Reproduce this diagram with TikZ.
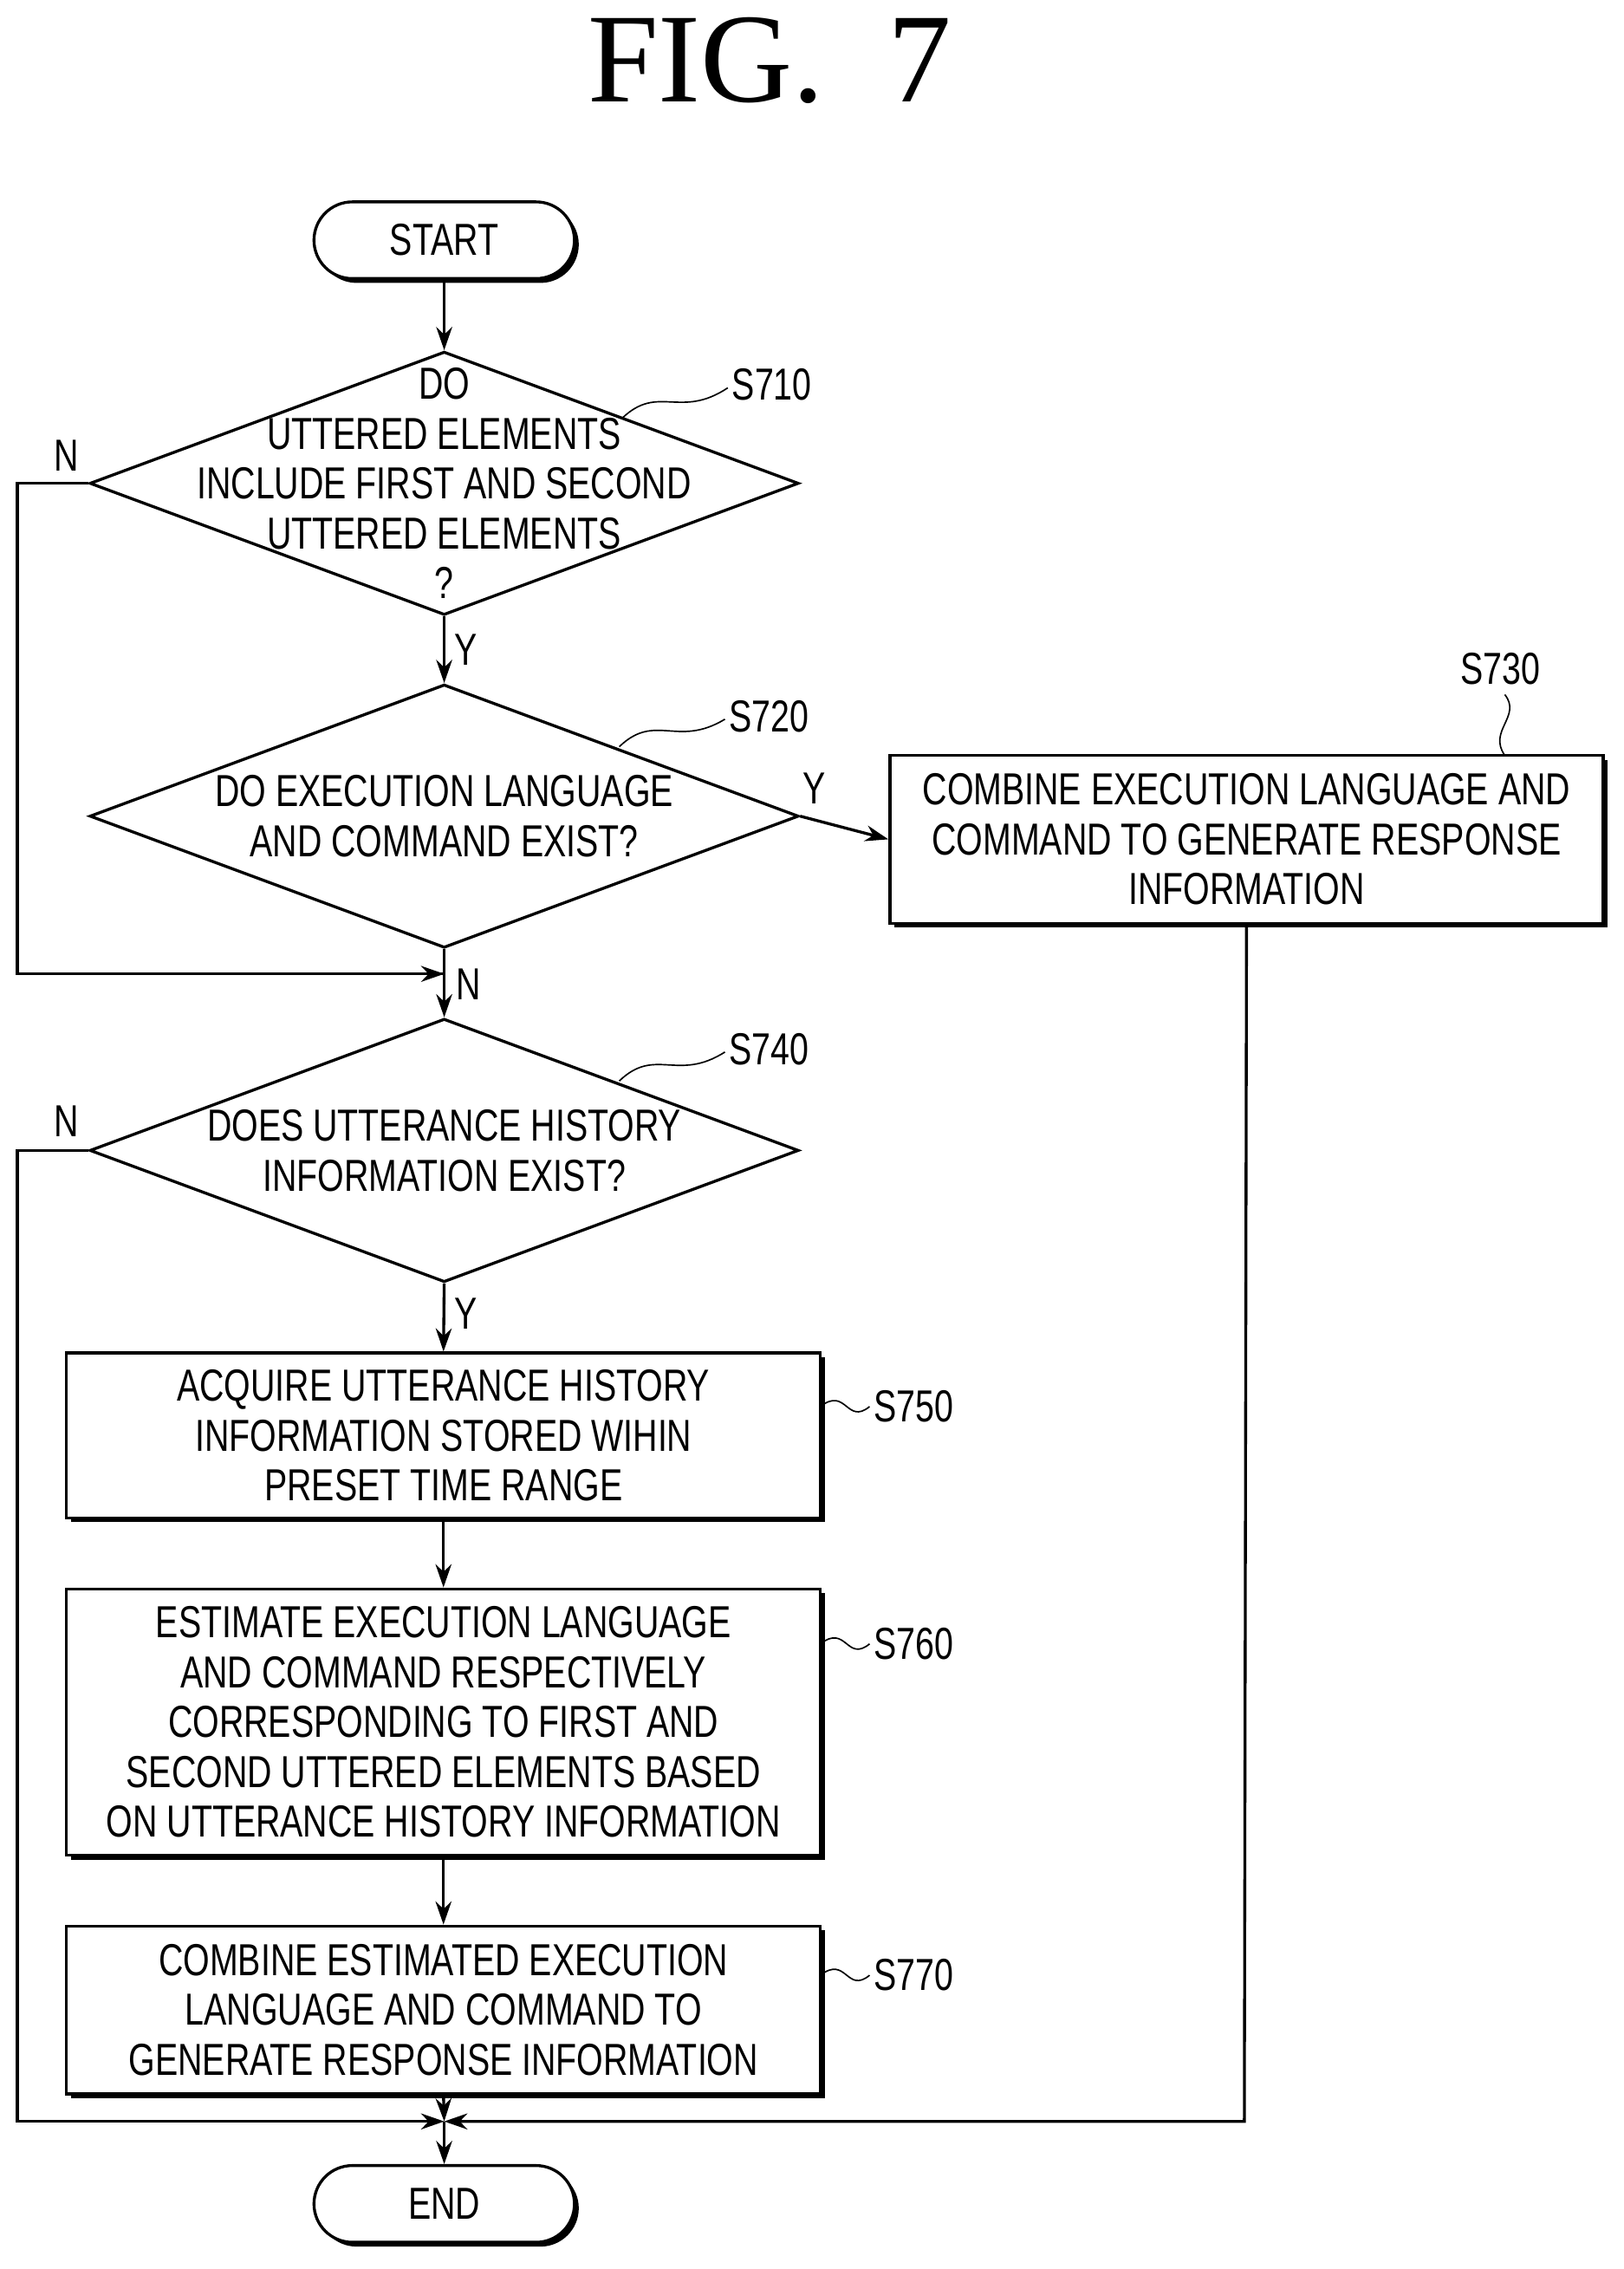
\documentclass[tikz,border=0pt]{standalone}
\usepackage{fontspec}
\setmainfont{Liberation Sans}[FakeStretch=0.76]
\newfontfamily\titlefont{Liberation Serif}
\usetikzlibrary{shapes.geometric,shapes.misc,shadows,arrows.meta}
\begin{document}
\begin{tikzpicture}[x=1pt,y=-1pt,line width=2pt,
  txt/.style={align=center,font=\fontsize{31}{34.5}\selectfont,inner sep=0},
  box/.style={draw,fill=white,rectangle,inner sep=0,drop shadow={shadow xshift=3pt,shadow yshift=-3pt,fill=black,opacity=1}},
  term/.style={draw,fill=white,rounded rectangle,minimum width=180,minimum height=53,inner sep=0,font=\fontsize{31}{34}\selectfont,drop shadow={shadow xshift=3pt,shadow yshift=-3pt,fill=black,opacity=1}},
  dia/.style={draw,diamond,minimum width=490,minimum height=182,inner sep=0},
  arr/.style={-{Stealth[length=16pt,width=11pt]}},
  lab/.style={font=\fontsize{31}{34}\selectfont,inner sep=0}]
\useasboundingbox (0,0) rectangle (1122,1568);
\node[font=\titlefont\fontsize{88}{90}\selectfont] (title) at (532,42) {FIG.\ \ 7};
\node[term] (start) at (307,166) {START};
\node[dia] (d1) at (307,334) {};
\node[txt] (t1) at (307,334) {DO\\UTTERED ELEMENTS\\INCLUDE FIRST AND SECOND\\UTTERED ELEMENTS\\?};
\node[dia] (d2) at (307,564) {};
\node[txt] (t2) at (307,564) {DO EXECUTION LANGUAGE\\AND COMMAND EXIST?};
\node[box,minimum width=493,minimum height=116] (b730) at (861.5,580) {};
\node[txt] (t730) at (861.5,580) {COMBINE EXECUTION LANGUAGE AND\\COMMAND TO GENERATE RESPONSE\\INFORMATION};
\node[dia] (d3) at (307,795) {};
\node[txt] (t3) at (307,795) {DOES UTTERANCE HISTORY\\INFORMATION EXIST?};
\node[box,minimum width=521,minimum height=114] (b750) at (306.5,992) {};
\node[txt] (t750) at (306.5,992) {ACQUIRE UTTERANCE HISTORY\\INFORMATION STORED WIHIN\\PRESET TIME RANGE};
\node[box,minimum width=521,minimum height=184] (b760) at (306.5,1190) {};
\node[txt] (t760) at (306.5,1190) {ESTIMATE EXECUTION LANGUAGE\\AND COMMAND RESPECTIVELY\\CORRESPONDING TO FIRST AND\\SECOND UTTERED ELEMENTS BASED\\ON UTTERANCE HISTORY INFORMATION};
\node[box,minimum width=521,minimum height=116] (b770) at (306.5,1389) {};
\node[txt] (t770) at (306.5,1389) {COMBINE ESTIMATED EXECUTION\\LANGUAGE AND COMMAND TO\\GENERATE RESPONSE INFORMATION};
\node[term] (end) at (307,1523) {END};
\coordinate (j1) at (307,673);
\coordinate (j2) at (307,1466);
% labels
\node[lab,anchor=west] (s710) at (505,266) {S710};
\node[lab,anchor=west] (s720) at (503,495) {S720};
\node[lab,anchor=west] (s740) at (503,725) {S740};
\node[lab] (s730) at (1037,462) {S730};
\node[lab,anchor=west] (s750) at (603,972) {S750};
\node[lab,anchor=west] (s760) at (603,1136) {S760};
\node[lab,anchor=west] (s770) at (603,1365) {S770};
\begin{scope}[line width=1pt]
\draw (430,289) .. controls (455,265) and (470,290) .. (503,268);
\draw (428,516) .. controls (453,492) and (468,517) .. (501,497);
\draw (428,747) .. controls (453,723) and (468,748) .. (501,727);
\draw (1040,522) .. controls (1028,505) and (1052,495) .. (1040,480);
\draw (567,972) .. controls (585,958) and (585,985) .. (601,972);
\draw (567,1136) .. controls (585,1122) and (585,1149) .. (601,1136);
\draw (567,1365) .. controls (585,1351) and (585,1378) .. (601,1365);
\end{scope}
% connectors
\draw[arr] (start) -- (d1.north);
\draw[arr] (d1.south) -- (d2.north);
\draw[arr] (d2.east) -- (b730.west);
\draw (d1.west) -- (12,334) -- (12,673) -- (j1);
\draw[arr] (d2.south) -- (d3.north);
\draw[arr] (12,673) -- (j1);
\draw[arr] (d3.south) -- (b750.north);
\draw[arr] (b750.south) -- (b760.north);
\draw[arr] (b760.south) -- (b770.north);
\draw[arr] (b770.south) -- (j2);
\draw[arr] (d3.west) -- (12,795) -- (12,1466) -- (j2);
\draw[arr] (b730.south) -- (860,1466) -- (j2);
\draw[arr] (j2) -- (end);
\node[lab] (n1) at (46,315) {N};
\node[lab] (y1) at (322,449) {Y};
\node[lab] (y2) at (563,545) {Y};
\node[lab] (n2) at (324,680) {N};
\node[lab] (n3) at (46,775) {N};
\node[lab] (y3) at (322,908) {Y};
\end{tikzpicture}
\end{document}
